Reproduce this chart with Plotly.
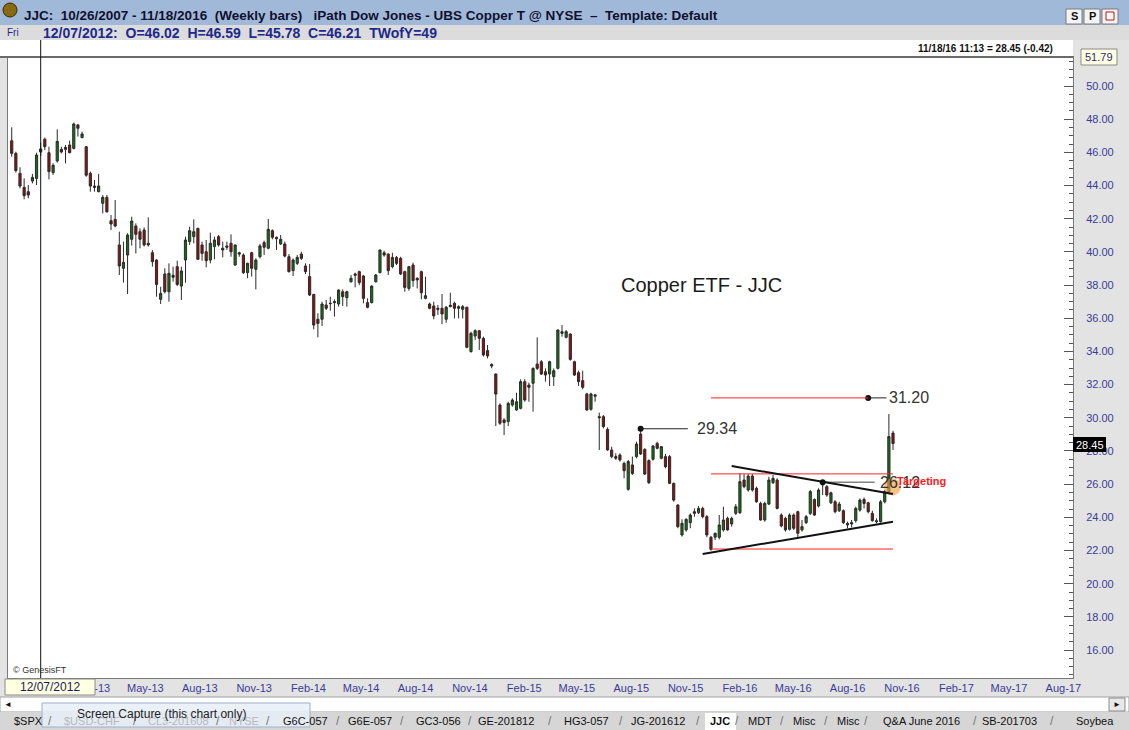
import pandas as pd
import plotly.graph_objects as go

# JJC weekly bars, 10/19/2012 - 11/18/2016
start_week = "2012-10-19"
opens = [46.70, 45.94, 44.74, 43.89, 43.63, 44.27, 44.43, 46.02, 46.79, 45.98,
         44.78, 45.48, 46.18, 46.30, 46.44, 46.24, 47.65, 46.89, 46.34, 44.74,
         43.97, 43.63, 42.93, 43.29, 41.88, 41.96, 40.42, 39.01, 39.81, 40.76,
         41.56, 41.22, 41.32, 40.52, 39.95, 39.51, 37.14, 38.67, 37.60, 38.59,
         39.11, 37.94, 39.51, 40.62, 40.92, 41.42, 40.42, 40.01, 39.51, 40.32,
         40.92, 40.22, 40.36, 40.52, 39.21, 39.95, 39.81, 38.75, 39.95, 38.95,
         39.71, 40.56, 40.22, 41.28, 40.88, 40.48, 40.48, 39.71, 38.87, 39.31,
         39.87, 39.15, 38.51, 37.44, 35.94, 35.94, 36.80, 36.88, 36.94, 36.86,
         37.60, 37.24, 38.20, 38.67, 38.81, 38.55, 36.94, 36.94, 38.20, 38.75,
         39.95, 39.87, 39.11, 39.67, 39.61, 38.81, 37.80, 39.21, 38.41, 38.81,
         37.20, 36.86, 36.74, 36.60, 36.60, 35.94, 36.70, 36.90, 36.70, 36.54,
         36.66, 33.99, 34.93, 35.25, 34.79, 34.05, 33.22, 32.64, 30.77, 29.87,
         29.77, 30.77, 30.47, 30.57, 32.18, 31.97, 32.08, 33.24, 33.38, 32.78,
         32.64, 32.48, 32.98, 35.19, 34.85, 35.05, 33.38, 32.72, 32.24, 31.44,
         30.51, 31.30, 30.07, 30.07, 29.30, 28.06, 27.66, 27.76, 27.25, 25.69,
         27.16, 27.66, 29.02, 28.10, 27.42, 27.50, 28.46, 27.56, 27.66, 27.66,
         26.05, 24.74, 22.94, 23.24, 23.68, 24.34, 24.28, 24.54, 24.04, 22.80,
         22.80, 22.80, 23.24, 23.94, 23.60, 24.24, 24.28, 26.25, 25.65, 26.49,
         25.75, 24.84, 23.84, 24.80, 26.09, 26.25, 24.14, 23.94, 23.28, 24.14,
         24.34, 23.24, 23.68, 24.24, 25.08, 24.68, 25.95, 25.85, 24.88, 24.94,
         24.40, 24.40, 23.64, 23.60, 23.80, 24.44, 25.08, 24.88, 24.24, 23.80,
         23.74, 24.94, 25.55, 29.08]
highs = [47.51, 46.04, 45.10, 44.43, 44.03, 44.70, 45.98, 46.59, 46.89, 46.34,
         45.34, 47.39, 46.34, 46.44, 46.70, 47.79, 47.71, 47.25, 46.38, 44.84,
         44.33, 44.70, 43.43, 43.43, 42.22, 43.13, 41.22, 40.62, 41.12, 42.12,
         41.72, 41.42, 41.48, 42.08, 40.11, 39.55, 37.90, 39.01, 39.31, 39.11,
         39.47, 39.11, 40.92, 41.52, 41.96, 41.46, 40.62, 40.72, 41.16, 40.92,
         41.02, 40.62, 40.62, 41.06, 40.42, 40.01, 39.91, 39.35, 40.01, 39.61,
         40.48, 40.68, 41.98, 41.36, 40.92, 41.02, 40.62, 39.87, 39.61, 39.81,
         40.01, 39.31, 39.27, 37.46, 36.30, 37.00, 37.10, 37.30, 37.14, 37.74,
         37.74, 37.66, 38.61, 38.75, 38.87, 38.61, 37.20, 38.00, 38.67, 40.15,
         40.07, 39.91, 39.95, 39.75, 39.71, 38.87, 39.15, 39.35, 38.47, 38.87,
         38.51, 36.94, 37.00, 36.80, 37.46, 36.74, 37.54, 37.00, 36.78, 36.80,
         36.70, 35.19, 35.33, 35.29, 34.89, 34.39, 33.28, 32.68, 30.87, 29.97,
         30.97, 31.17, 31.51, 32.32, 32.32, 32.12, 33.04, 34.85, 33.48, 32.98,
         33.44, 32.98, 35.33, 35.59, 35.29, 35.09, 33.44, 32.84, 32.84, 31.51,
         31.51, 31.44, 30.31, 30.17, 29.42, 28.26, 27.86, 27.86, 27.36, 27.46,
         27.66, 28.56, 29.34, 28.16, 27.50, 28.36, 28.56, 28.30, 27.82, 27.76,
         26.09, 24.80, 23.88, 23.94, 24.24, 24.54, 24.68, 24.64, 24.14, 22.88,
         23.08, 24.14, 24.64, 24.04, 24.04, 24.80, 26.65, 26.61, 26.61, 26.61,
         25.85, 24.94, 24.94, 26.45, 26.55, 26.35, 24.24, 24.04, 24.24, 24.24,
         24.40, 23.84, 24.14, 25.65, 25.14, 25.75, 26.25, 25.95, 25.55, 25.04,
         24.94, 24.48, 23.74, 23.84, 24.64, 25.14, 25.20, 24.94, 24.40, 23.94,
         25.04, 25.65, 30.23, 29.22]
lows = [45.74, 44.78, 43.83, 43.17, 43.23, 44.13, 44.03, 45.78, 46.14, 44.37,
        44.64, 45.38, 45.94, 45.34, 45.94, 46.18, 46.95, 46.85, 44.53, 43.63,
        43.63, 43.59, 42.32, 42.36, 41.32, 41.48, 38.61, 38.15, 37.46, 40.38,
        39.91, 40.22, 40.32, 40.32, 39.11, 37.30, 36.86, 37.50, 37.00, 38.21,
        37.94, 37.10, 38.15, 40.42, 40.52, 39.51, 39.47, 39.07, 39.31, 39.55,
        40.32, 39.67, 40.12, 39.71, 39.15, 39.71, 38.67, 38.41, 38.51, 37.74,
        39.61, 39.81, 40.16, 40.76, 40.12, 40.42, 39.67, 38.75, 38.55, 39.21,
        39.51, 38.67, 37.34, 35.33, 34.85, 35.53, 36.50, 36.46, 36.10, 36.70,
        36.74, 36.70, 38.15, 37.86, 38.00, 36.90, 36.60, 36.90, 38.15, 38.71,
        39.71, 38.61, 39.01, 39.21, 38.61, 37.60, 37.66, 37.90, 37.80, 37.14,
        37.14, 36.54, 35.94, 36.20, 35.65, 35.73, 36.66, 35.99, 35.99, 35.99,
        34.19, 33.93, 34.69, 34.09, 33.69, 33.58, 32.98, 29.50, 29.57, 28.96,
        29.50, 30.67, 30.43, 30.51, 30.97, 30.97, 30.37, 32.88, 32.58, 32.18,
        31.92, 31.92, 32.92, 34.89, 34.79, 33.44, 32.52, 31.92, 31.72, 30.43,
        30.43, 30.97, 28.06, 29.36, 28.02, 27.56, 27.46, 27.36, 26.35, 25.61,
        26.55, 27.56, 27.76, 26.55, 26.01, 27.42, 28.10, 27.50, 26.95, 26.01,
        24.94, 23.34, 22.84, 23.14, 23.34, 24.04, 24.20, 23.94, 22.80, 21.99,
        22.63, 22.67, 23.14, 23.20, 23.44, 24.14, 24.20, 25.75, 25.55, 25.55,
        24.88, 23.80, 23.74, 24.74, 26.01, 24.48, 23.40, 23.14, 23.20, 23.24,
        22.80, 23.14, 23.60, 24.14, 24.08, 24.60, 25.35, 25.24, 24.80, 24.24,
        24.32, 23.60, 23.34, 23.40, 23.68, 24.34, 24.54, 24.24, 23.74, 23.64,
        23.68, 24.84, 25.40, 28.06]
closes = [45.94, 44.90, 43.97, 43.39, 43.43, 44.49, 45.84, 46.21, 46.34, 44.84,
          45.22, 46.66, 46.02, 46.18, 45.98, 47.71, 47.45, 47.11, 44.62, 43.97,
          43.89, 43.97, 43.29, 42.42, 41.68, 41.56, 39.15, 39.37, 41.02, 41.86,
          41.06, 40.76, 40.42, 40.42, 39.41, 38.04, 37.50, 37.60, 38.71, 38.47,
          38.04, 38.85, 40.72, 41.28, 41.22, 39.55, 39.91, 39.47, 40.52, 40.72,
          40.42, 40.12, 40.28, 40.01, 40.42, 39.87, 38.75, 39.31, 39.01, 39.51,
          40.36, 40.28, 41.36, 40.88, 40.80, 40.76, 39.75, 38.81, 39.51, 39.67,
          39.61, 38.81, 37.40, 35.59, 35.69, 36.86, 36.60, 36.90, 37.00, 37.70,
          37.30, 37.60, 38.41, 38.59, 38.15, 37.20, 36.66, 37.94, 38.61, 40.11,
          39.81, 38.87, 39.67, 39.31, 38.67, 37.86, 39.11, 38.27, 38.31, 37.54,
          37.36, 36.60, 36.14, 36.54, 36.26, 36.66, 36.78, 36.60, 36.60, 36.70,
          34.25, 35.09, 35.25, 34.79, 33.79, 33.73, 33.12, 31.43, 29.67, 29.71,
          30.87, 31.07, 30.97, 32.18, 31.07, 31.84, 32.98, 32.98, 32.64, 32.58,
          33.38, 32.84, 35.29, 35.09, 35.19, 33.52, 32.58, 32.18, 31.84, 30.47,
          31.44, 31.38, 30.01, 29.47, 28.06, 27.66, 27.56, 27.46, 26.81, 27.36,
          26.65, 28.42, 27.82, 26.61, 26.09, 28.30, 28.16, 28.26, 27.05, 26.05,
          25.04, 23.44, 23.64, 23.88, 24.14, 24.24, 24.54, 24.04, 22.94, 22.07,
          23.04, 23.54, 23.84, 23.24, 23.94, 24.64, 26.15, 25.85, 26.49, 25.65,
          24.94, 23.84, 24.84, 26.25, 26.35, 24.54, 23.48, 23.24, 24.14, 23.34,
          23.04, 23.44, 24.04, 25.55, 24.14, 25.65, 26.15, 25.35, 25.48, 24.34,
          24.80, 23.68, 23.54, 23.68, 24.54, 25.04, 24.84, 24.34, 23.80, 23.74,
          24.94, 25.55, 28.87, 28.45]
dates = pd.date_range(start_week, periods=len(closes), freq="W-FRI")

cursor_date = pd.Timestamp("2012-12-07")
last_label = "11/18/16 11:13 = 28.45 (-0.42)"
scale_top = "51.79"
last_price = "28.45"

# drawn levels
target_level = 31.20
breakout_level = 26.12
range_top = 26.62
range_bottom = 22.09
upper_trend = [27.09, 25.41]
lower_trend = [21.79, 23.74]

price_ticks = list(range(16, 51, 2))
month_ticks = pd.date_range("2012-11-01", "2017-08-01", freq="3MS")
month_labels = [d.strftime("%b-%y") for d in month_ticks]

tabs = ["$SPX", "$USD-CHF", "CL3-201608", "NYSE", "G6C-057", "G6E-057", "GC3-056",
        "GE-201812", "HG3-057", "JG-201612", "JJC", "MDT", "Misc", "Misc",
        "Q&A June 2016", "SB-201703", "Soybea"]
tab_x = [28, 92, 178, 244, 305, 370, 438, 506, 586, 658, 720, 760, 804, 848, 921, 1009, 1095]
tab_sep = [50, 135, 218, 268, 338, 402, 470, 550, 621, 698, 737, 782, 826, 866, 975, 1052]

W, H = 1129, 730
L, R, T, B = 8, 1073, 57, 678
FONT = "Liberation Sans, Arial, sans-serif"
wk = pd.Timedelta(days=7)


def px(X):
    return (X - L) / (R - L)


def py(Y):
    return (B - Y) / (B - T)


shapes = []
notes = []


def rect(x0, y0, x1, y1, fill, line=None, lw=1):
    shapes.append(dict(type="rect", xref="paper", yref="paper", x0=px(x0), x1=px(x1),
                       y0=py(y0), y1=py(y1), fillcolor=fill, layer="above",
                       line=dict(color=line or fill, width=lw if line else 0)))


def text(x, y, s, size=12, color="#111", bold=False, anchor="left", **kw):
    if bold:
        s = "<b>" + s + "</b>"
    notes.append(dict(x=px(x), y=py(y), xref="paper", yref="paper", text=s, showarrow=False,
                      xanchor=anchor, yanchor="middle", font=dict(family=FONT, size=size, color=color), **kw))


fig = go.Figure()
fig.add_trace(go.Candlestick(
    x=dates, open=opens, high=highs, low=lows, close=closes,
    increasing=dict(line=dict(color="#2a2a2a", width=1), fillcolor="#137313"),
    decreasing=dict(line=dict(color="#2a2a2a", width=1), fillcolor="#980c0c"),
    whiskerwidth=0, showlegend=False, name="JJC"))

# level lines
peak = 152
d0, d1 = dates[169], dates[-1]
for lvl, end in [(range_top, d1), (range_bottom, d1), (target_level, dates[207])]:
    shapes.append(dict(type="line", xref="x", yref="y", x0=d0, x1=end, y0=lvl, y1=lvl,
                       line=dict(color="#ff2020", width=1)))
shapes.append(dict(type="line", xref="x", yref="y", x0=dates[207], x1=dates[211] + pd.Timedelta(days=3),
                   y0=target_level, y1=target_level, line=dict(color="#222", width=1)))
shapes.append(dict(type="line", xref="x", yref="y", x0=dates[peak], x1=dates[peak] + 11.4 * wk,
                   y0=highs[peak], y1=highs[peak], line=dict(color="#222", width=1)))
shapes.append(dict(type="line", xref="x", yref="y", x0=dates[196], x1=dates[208] + pd.Timedelta(days=4),
                   y0=breakout_level, y1=breakout_level, line=dict(color="#444", width=1)))
shapes.append(dict(type="line", xref="x", yref="y", x0=dates[174], x1=d1,
                   y0=upper_trend[0], y1=upper_trend[1], line=dict(color="#111", width=2)))
shapes.append(dict(type="line", xref="x", yref="y", x0=dates[167], x1=d1,
                   y0=lower_trend[0], y1=lower_trend[1], line=dict(color="#111", width=2)))

fig.add_trace(go.Scatter(x=[dates[peak], dates[207], dates[196]],
                         y=[highs[peak], target_level, breakout_level], mode="markers",
                         marker=dict(color="#111", size=6), showlegend=False, hoverinfo="skip"))
fig.add_trace(go.Scatter(x=[d1 - pd.Timedelta(days=1)], y=[25.83], mode="markers",
                         marker=dict(color="rgba(245,160,70,0.65)", size=17), showlegend=False, hoverinfo="skip"))

lab = dict(showarrow=False, xref="x", yref="y", xanchor="left", yanchor="middle")
notes.append(dict(x=dates[peak] + 13.2 * wk, y=highs[peak], text="29.34",
                  font=dict(family=FONT, size=16, color="#333"), **lab))
notes.append(dict(x=dates[211] + pd.Timedelta(days=4), y=target_level, text="31.20",
                  font=dict(family=FONT, size=16, color="#333"), **lab))
notes.append(dict(x=dates[209] + pd.Timedelta(days=3), y=breakout_level, text="26.12",
                  font=dict(family=FONT, size=16, color="#333"), **lab))
notes.append(dict(x=d1 + pd.Timedelta(days=3), y=26.19, text="<b>Targeting</b>",
                  font=dict(family=FONT, size=11, color="#ff1a1a"), **lab))

# chart title
text(702, 285, "Copper ETF - JJC", size=20, color="#1a1a1a", anchor="center")

# window chrome
rect(0, 0, W, 25, "#a1b9d8")
rect(0, 25, W, 40, "#dcdcdc")
rect(0, 40, R, 57, "#ffffff")
shapes.append(dict(type="line", xref="paper", yref="paper", x0=px(0), x1=px(R), y0=py(57), y1=py(57),
                   line=dict(color="#6a6a6a", width=2), layer="above"))
shapes.append(dict(type="circle", xref="paper", yref="paper", x0=px(3), x1=px(17), y0=py(3), y1=py(17),
                   fillcolor="#8a6a10", line=dict(color="#3a2a00", width=1), layer="above"))
for bx, lbl in [(1066, "S"), (1084, "P"), (1102, "")]:
    rect(bx, 9, bx + 16, 24, "#f4f4f4", "#7a7a7a")
    if lbl:
        text(bx + 8, 16.5, lbl, size=11, bold=True, anchor="center")
rect(1106, 12, 1114, 20, "#ffffff", "#c01010")
text(22, 16, "JJC:  10/26/2007 - 11/18/2016  (Weekly bars)   iPath Dow Jones - UBS Copper T @ NYSE  \u2013  Template: Default",
     size=13.5, color="#101030", bold=True)
text(5, 32.5, "Fri", size=10, color="#1c2a8c")
text(41, 32.5, "12/07/2012:  O=46.02  H=46.59  L=45.78  C=46.21  TWofY=49", size=14, color="#1c2a8c", bold=True)
text(1055, 49, last_label, size=10, color="#111", bold=True, anchor="right")

# cursor
shapes.append(dict(type="line", xref="x", yref="paper", x0=cursor_date, x1=cursor_date, y0=0, y1=py(40),
                   line=dict(color="#111", width=1), layer="above"))

# scale boxes
rect(1081, 49, 1117, 65, "#ffffe1", "#8a8a8a")
text(1099, 57, scale_top, size=11, color="#2b2b7a", anchor="center")
rect(1073, 437, 1106, 452, "#000000")
text(1089.5, 444.5, last_price, size=11, color="#ffffff", anchor="center")

# bottom strip
text(11, 670, "\u00a9 GenesisFT", size=9, color="#333")
rect(5, 679, 95, 695, "#ffffe1", "#8a8a8a")
text(50, 687, "12/07/2012", size=12, color="#1c1c5c", anchor="center")
rect(0, 697, W, 712, "#ffffff", "#a0a0a0")
text(8, 704.5, "\u25c4", size=8, color="#111", anchor="center")
rect(1109, 698, 1125, 711, "#e8e8e8", "#8a8a8a")
text(1117, 704.5, "\u25ba", size=8, color="#111", anchor="center")
rect(0, 712, W, H, "#d6d6d6")
rect(705, 713, 736, H, "#ffffff")
faded = {"$USD-CHF", "CL3-201608", "NYSE"}
for tx, tname in zip(tab_x, tabs):
    col = "#b8b8c0" if tname in faded else "#111"
    text(tx, 721, tname, size=11, color=col, bold=(tname == "JJC"), anchor="center")
for sx in tab_sep:
    text(sx, 721, "/", size=12, color="#777", anchor="center")
rect(42, 703, 310, 727, "rgba(232,238,248,0.85)", "#9fb0cc")
text(75, 714, "Screen Capture (this chart only)", size=12, color="#222")

fig.update_layout(
    width=W, height=H, margin=dict(l=L, r=W - R, t=T, b=H - B),
    paper_bgcolor="#e3e3e3", plot_bgcolor="#ffffff",
    shapes=shapes, annotations=notes, boxgap=0.25,
    font=dict(family=FONT),
    xaxis=dict(type="date", range=[dates[0] - pd.Timedelta(days=6.3), pd.Timestamp("2017-09-18 12:00")],
               rangeslider=dict(visible=False), tickvals=month_ticks, ticktext=month_labels,
               ticklabelshift=19, ticks="", showgrid=False, zeroline=False,
               showline=True, linecolor="#7a7a7a", mirror=True,
               tickfont=dict(family=FONT, size=11, color="#3b3b98")),
    yaxis=dict(side="right", range=[14.316, 51.748], tickvals=price_ticks, tickformat=".2f",
               ticks="inside", ticklen=9, tickcolor="#555", showgrid=False, zeroline=False,
               showline=True, linecolor="#7a7a7a", mirror=True, ticklabelstandoff=10,
               minor=dict(dtick=0.5, ticks="inside", ticklen=4, tickcolor="#555"),
               tickfont=dict(family=FONT, size=11, color="#3b3b98")),
)

fig.write_html("out.html", config={"displayModeBar": False},
               post_script="document.body.style.margin='0';document.body.style.overflow='hidden';")
